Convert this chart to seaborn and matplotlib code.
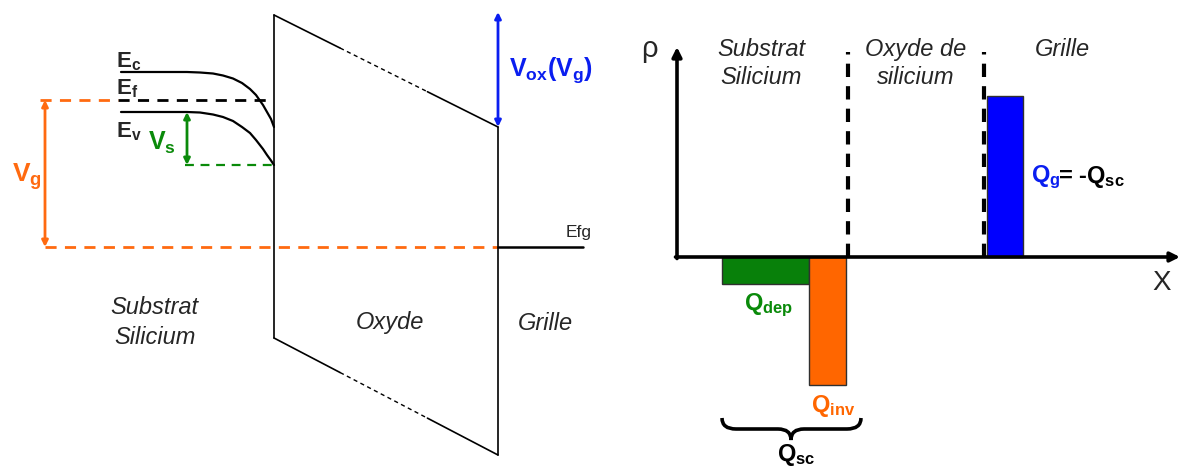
import numpy as np
import pandas as pd
import matplotlib
matplotlib.use("Agg")
import matplotlib.pyplot as plt
from matplotlib.path import Path
from matplotlib.patches import PathPatch
import seaborn as sns

# ---------------- data ----------------
# Left panel: band diagram (x in px across figure, energy in px relative to gate Fermi level Efg)
band_x = [121, 150, 187, 200, 213, 223, 233, 242, 250, 256, 263, 267, 271, 274]
ec_energy = [175, 175, 175, 174.5, 173.5, 171.5, 168.5, 164, 158, 152, 142, 135, 128, 120]
ev_energy = [135, 135, 135, 134.5, 132.5, 130, 126, 120, 114, 107, 98, 92, 86.5, 82]
ef_energy = 147          # substrate Fermi level
efg_energy = 0           # gate Fermi level
oxide_x = [274, 498]
oxide_top = [232, 120]
oxide_bottom = [-91, -208]
vox_top = 235

# Right panel: charge density
bar_names = ["Q_dep", "Q_inv", "Q_g"]
bar_left = [722, 809, 987]
bar_width = [87, 37, 36]
bar_rho = [-27, -128, 161]
region_bounds = [848, 984]
region_names = ["Substrat\nSilicium", "Oxyde de\nsilicium", "Grille"]
region_centers = [761, 916, 1062]

ORANGE = "#FF6A10"
GREEN = "#0A8A0A"
BLUE = "#0A1EF0"
BAR_GREEN = "#08800A"
BAR_ORANGE = "#FF6600"
BAR_BLUE = "#0000FF"

sns.set_theme(style="white")
plt.rcParams["font.family"] = ["Liberation Sans", "DejaVu Sans"]
plt.rcParams["mathtext.fontset"] = "custom"
plt.rcParams["mathtext.bf"] = "Liberation Sans:bold"
plt.rcParams["mathtext.rm"] = "Liberation Sans:bold"
plt.rcParams["mathtext.it"] = "Liberation Sans:bold"
plt.rcParams["mathtext.default"] = "bf"

W, H = 1180, 468
fig = plt.figure(figsize=(W / 100, H / 100), dpi=100)
fig.patch.set_facecolor("white")

# Left axes: x pixel, y = 247 - py
axL = fig.add_axes([0, 0, 1, 1])
axL.set_xlim(0, W)
axL.set_ylim(247 - H, 247)
axL.axis("off")
# Right axes: x pixel, y = 257 - py
axR = fig.add_axes([0, 0, 1, 1])
axR.set_xlim(0, W)
axR.set_ylim(257 - H, 257)
axR.axis("off")
axR.patch.set_alpha(0)

# ---------- left panel ----------
bands = pd.DataFrame({"x": band_x + band_x,
                      "E": ec_energy + ev_energy,
                      "band": ["Ec"] * len(band_x) + ["Ev"] * len(band_x)})
sns.lineplot(data=bands, x="x", y="E", units="band", estimator=None, sort=False,
             color="black", lw=1.6, ax=axL, legend=False)

dash = (0, (4, 3))
# Fermi level (dashed black) and Vg reference (dashed orange)
axL.plot([band_x[0] - 3, oxide_x[0] - 4], [ef_energy, ef_energy], color="black", lw=2, ls=dash)
axL.plot([40, band_x[0] - 3], [ef_energy, ef_energy], color=ORANGE, lw=2, ls=dash)
axL.plot([45, oxide_x[1]], [efg_energy, efg_energy], color=ORANGE, lw=2, ls=dash)
# Vs dashed green
axL.plot([185, oxide_x[0]], [ev_energy[-1], ev_energy[-1]], color=GREEN, lw=1.6, ls=dash)
# Efg solid
axL.plot([oxide_x[1], 583], [efg_energy, efg_energy], color="black", lw=1.8)

# oxide outline
axL.plot([oxide_x[0], oxide_x[0]], [oxide_top[0], oxide_bottom[0]], color="black", lw=1.2)
axL.plot([oxide_x[1], oxide_x[1]], [oxide_top[1], oxide_bottom[1]], color="black", lw=1.2)
for ys in (oxide_top, oxide_bottom):
    f = [0, 0.295, 0.685, 1]
    xs = [oxide_x[0] + t * (oxide_x[1] - oxide_x[0]) for t in f]
    yy = [ys[0] + t * (ys[1] - ys[0]) for t in f]
    axL.plot(xs[0:2], yy[0:2], color="black", lw=1.2)
    axL.plot(xs[1:3], yy[1:3], color="black", lw=1.0, ls=(0, (3, 2.5)))
    axL.plot(xs[2:4], yy[2:4], color="black", lw=1.2)

def darrow(ax, x, y0, y1, color, lw=2):
    ax.annotate("", xy=(x, y1), xytext=(x, y0),
                arrowprops=dict(arrowstyle="<|-|>", color=color, lw=lw,
                                mutation_scale=9, shrinkA=0, shrinkB=0))

darrow(axL, 45, efg_energy, ef_energy, ORANGE)
darrow(axL, 187, ev_energy[-1], ev_energy[0], GREEN)
darrow(axL, oxide_x[1], oxide_top[1], vox_top, BLUE)

# labels (left)
axL.text(116, 247 - 67, "E$_c$", fontsize=16, fontweight="bold", ha="left", va="baseline")
axL.text(116, 247 - 94, "E$_f$", fontsize=16, fontweight="bold", ha="left", va="baseline")
axL.text(116, 247 - 137, "E$_v$", fontsize=16, fontweight="bold", ha="left", va="baseline")
axL.text(148, 247 - 143, "V$_s$", fontsize=18, fontweight="bold", color=GREEN, ha="left", va="center")
axL.text(12, 247 - 177, "V$_g$", fontsize=19, fontweight="bold", color=ORANGE, ha="left", va="center")
axL.text(509, 247 - 70, "V$_{ox}$(V$_g$)", fontsize=18, fontweight="bold", color=BLUE, ha="left", va="center")
axL.text(566, 247 - 233, "Efg", fontsize=12.5, ha="left", va="center")
axL.text(110, 247 - 308, "Substrat", fontsize=17, style="italic", ha="left", va="center")
axL.text(114, 247 - 337, "Silicium", fontsize=17, style="italic", ha="left", va="center")
axL.text(390, 247 - 323, "Oxyde", fontsize=17, style="italic", ha="center", va="center")
axL.text(545, 247 - 323, "Grille", fontsize=17, style="italic", ha="center", va="center")

# ---------- right panel ----------
colors = [BAR_GREEN, BAR_ORANGE, BAR_BLUE]
axR.bar(bar_left, bar_rho, width=bar_width, align="edge", color=colors,
        edgecolor="#303030", linewidth=1.0, zorder=2)
# region boundaries
for xb in region_bounds:
    axR.plot([xb, xb], [0, 205], color="black", lw=3, ls=(0, (3.2, 2.2)), zorder=3)
# axes arrows
axR.annotate("", xy=(677, 210), xytext=(677, -1.5),
             arrowprops=dict(arrowstyle="-|>", color="black", lw=2.6,
                             mutation_scale=14, shrinkA=0, shrinkB=0))
axR.annotate("", xy=(1180, 0), xytext=(675.5, 0),
             arrowprops=dict(arrowstyle="-|>", color="black", lw=2.6,
                             mutation_scale=14, shrinkA=0, shrinkB=0), zorder=4)

for name, xc in zip(region_names, region_centers):
    axR.text(xc, 257 - 38, name, fontsize=17, style="italic", ha="center", va="top",
             linespacing=1.25)
axR.text(649, 257 - 49, "ρ", fontsize=21, ha="center", va="center")
axR.text(1162, 257 - 283, "X", fontsize=20, ha="center", va="center")

axR.text(1031, 257 - 177, "Q$_g$", fontsize=17, fontweight="bold", color=BLUE, ha="left", va="center")
axR.text(1058, 257 - 177, "= -Q$_{sc}$", fontsize=17, fontweight="bold", color="black", ha="left", va="center")
axR.text(744, 257 - 305, "Q$_{dep}$", fontsize=17, fontweight="bold", color=GREEN, ha="left", va="center")
axR.text(811, 257 - 406, "Q$_{inv}$", fontsize=17, fontweight="bold", color=BAR_ORANGE, ha="left", va="center")
axR.text(777, 257 - 455, "Q$_{sc}$", fontsize=17, fontweight="bold", color="black", ha="left", va="center")

# curly brace under the substrate charges
def py(v):
    return 257 - v
bx0, bx1, bxm = 722, 861, 791
yt, ym, yb = py(418), py(429), py(440)
verts = [(bx0, yt), (bx0, ym), (bx0 + 14, ym),
         (bxm - 13, ym),
         (bxm, ym), (bxm, yb),
         (bxm, ym), (bxm + 13, ym),
         (bx1 - 14, ym),
         (bx1, ym), (bx1, yt)]
codes = [Path.MOVETO, Path.CURVE3, Path.CURVE3,
         Path.LINETO,
         Path.CURVE3, Path.CURVE3,
         Path.CURVE3, Path.CURVE3,
         Path.LINETO,
         Path.CURVE3, Path.CURVE3]
axR.add_patch(PathPatch(Path(verts, codes), fill=False, lw=2.6, color="black"))

fig.savefig("out.png", dpi=100, facecolor="white")
